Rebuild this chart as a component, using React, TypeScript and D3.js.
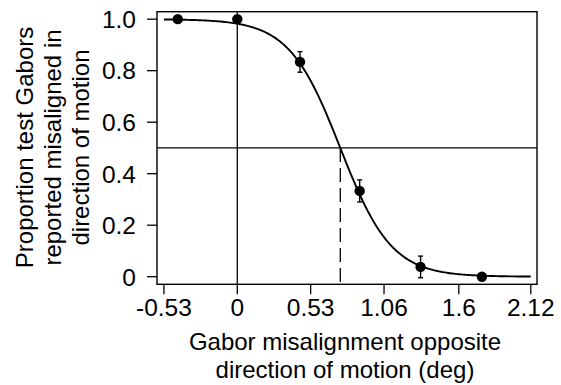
import React from "react";
import * as d3 from "d3";

const xTicks = [-0.53, 0, 0.53, 1.06, 1.6, 2.12];
const xTickLabels = ["-0.53", "0", "0.53", "1.06", "1.6", "2.12"];
const yTicks = [0, 0.2, 0.4, 0.6, 0.8, 1.0];
const yTickLabels = ["0", "0.2", "0.4", "0.6", "0.8", "1.0"];

const pointX = [-0.43, 0, 0.453, 0.884, 1.324, 1.767];
const pointY = [1.0, 1.0, 0.834, 0.333, 0.038, 0.0];
const pointErr = [0, 0, 0.04, 0.043, 0.042, 0];

// psychometric (logistic) fit parameters
const fitThreshold = 0.744;
const fitSlope = 0.185;
const fitRange = [-0.53, 2.12];

const yTitle = ["Proportion test Gabors", "reported misaligned in", "direction of motion"];
const xTitle = ["Gabor misalignment opposite", "direction of motion (deg)"];

const W = 561;
const H = 385;
const left = 157;
const right = 537;
const top = 11.7;
const bottom = 284.3;
const FONT = "'Liberation Sans', Arial, Helvetica, sans-serif";
const FS = 24;
const TICK_FS = 24.5;

export default function App() {
  const x = d3.scaleLinear().domain([-0.58, 2.165]).range([left, right]);
  const y = d3.scaleLinear().domain([-0.0295, 1.029]).range([bottom, top]);

  const curveXs = d3.range(0, 201).map(
    (i) => fitRange[0] + ((fitRange[1] - fitRange[0]) * i) / 200
  );
  const curveData = curveXs.map((v) => [v, 1 / (1 + Math.exp((v - fitThreshold) / fitSlope))] as [number, number]);
  const line = d3
    .line<[number, number]>()
    .x((d) => x(d[0]))
    .y((d) => y(d[1]));

  const cx = 345;
  const cy = 147.5;

  return (
    <svg
      width={W}
      height={H}
      style={{ position: "absolute", left: 0, top: 0, background: "#fff" }}
      fontFamily={FONT}
    >
      <rect x={0} y={0} width={W} height={H} fill="#fff" />
      {/* reference lines */}
      <line x1={x(0)} x2={x(0)} y1={top} y2={bottom} stroke="#000" strokeWidth={1.3} />
      <line x1={left} x2={right} y1={y(0.5)} y2={y(0.5)} stroke="#000" strokeWidth={1.3} />
      <line
        x1={x(fitThreshold)}
        x2={x(fitThreshold)}
        y1={y(0.5)}
        y2={bottom}
        stroke="#000"
        strokeWidth={1.3}
        strokeDasharray="14,6"
      />
      {/* fit curve */}
      <path d={line(curveData) || ""} fill="none" stroke="#000" strokeWidth={1.9} />
      {/* error bars */}
      {pointX.map((px, i) =>
        pointErr[i] > 0 ? (
          <g key={"e" + i} stroke="#000" strokeWidth={1.4}>
            <line x1={x(px)} x2={x(px)} y1={y(pointY[i] - pointErr[i])} y2={y(pointY[i] + pointErr[i])} />
            <line x1={x(px) - 2.5} x2={x(px) + 2.5} y1={y(pointY[i] - pointErr[i])} y2={y(pointY[i] - pointErr[i])} />
            <line x1={x(px) - 2.5} x2={x(px) + 2.5} y1={y(pointY[i] + pointErr[i])} y2={y(pointY[i] + pointErr[i])} />
          </g>
        ) : null
      )}
      {/* points */}
      {pointX.map((px, i) => (
        <circle key={"p" + i} cx={x(px)} cy={y(pointY[i])} r={5.2} fill="#000" />
      ))}
      {/* frame */}
      <rect x={left} y={top} width={right - left} height={bottom - top} fill="none" stroke="#000" strokeWidth={1.4} />
      {/* y ticks */}
      {yTicks.map((t, i) => (
        <g key={"yt" + i}>
          <line x1={left - 10} x2={left} y1={y(t)} y2={y(t)} stroke="#000" strokeWidth={1.3} />
          <text x={136} y={y(t)} dy="0.36em" textAnchor="end" fontSize={TICK_FS} fill="#000">
            {yTickLabels[i]}
          </text>
        </g>
      ))}
      {/* x ticks */}
      {xTicks.map((t, i) => (
        <g key={"xt" + i}>
          <line x1={x(t)} x2={x(t)} y1={bottom} y2={bottom + 10} stroke="#000" strokeWidth={1.3} />
          <text x={x(t)} y={316} textAnchor="middle" fontSize={TICK_FS} fill="#000">
            {xTickLabels[i]}
          </text>
        </g>
      ))}
      {/* x title */}
      {xTitle.map((s, i) => (
        <text key={"xti" + i} x={cx} y={350 + i * 27.5} textAnchor="middle" fontSize={FS} fill="#000">
          {s}
        </text>
      ))}
      {/* y title */}
      {yTitle.map((s, i) => (
        <text
          key={"yti" + i}
          transform={`translate(${33.3 + i * 27.8},${cy}) rotate(-90)`}
          textAnchor="middle"
          fontSize={FS}
          fill="#000"
        >
          {s}
        </text>
      ))}
    </svg>
  );
}
